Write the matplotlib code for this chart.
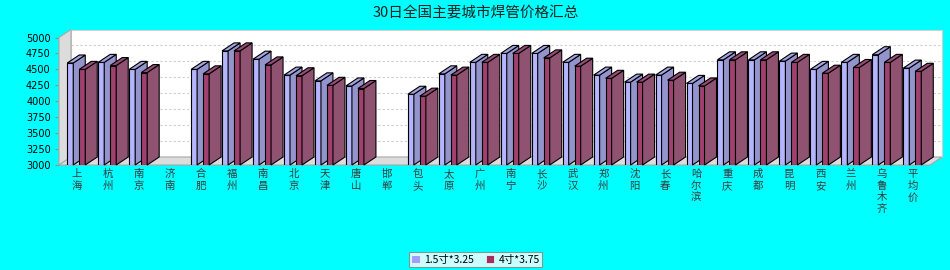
import matplotlib
matplotlib.use("Agg")
import matplotlib.pyplot as plt
from matplotlib.patches import Polygon, Patch
import numpy as np

plt.rcParams['font.family'] = ['Noto Sans CJK SC', 'DejaVu Sans']

title = "30日全国主要城市焊管价格汇总"
cities = ["上海", "杭州", "南京", "济南", "合肥", "福州", "南昌", "北京", "天津", "唐山",
          "邯郸", "包头", "太原", "广州", "南宁", "长沙", "武汉", "郑州", "沈阳", "长春",
          "哈尔滨", "重庆", "成都", "昆明", "西安", "兰州", "乌鲁木齐", "平均价"]
series_names = ["1.5寸*3.25", "4寸*3.75"]
s1 = [4600, 4610, 4500, np.nan, 4500, 4790, 4660, 4410, 4320, 4240,
      np.nan, 4110, 4430, 4610, 4750, 4750, 4610, 4410, 4300, 4410,
      4280, 4650, 4650, 4630, 4500, 4610, 4730, 4520]
s2 = [4500, 4560, 4450, np.nan, 4430, 4790, 4570, 4400, 4250, 4200,
      np.nan, 4080, 4410, 4610, 4750, 4680, 4550, 4360, 4300, 4330,
      4240, 4650, 4650, 4610, 4440, 4530, 4610, 4470]
yticks = [3000, 3250, 3500, 3750, 4000, 4250, 4500, 4750, 5000]

W, H = 950, 270
fig = plt.figure(figsize=(9.5, 2.7), dpi=100, facecolor='#00ffff')

left_px, right_px, top_px, bot_px = 59, 930, 37.5, 165
ax = fig.add_axes([left_px / W, 1 - bot_px / H, (right_px - left_px) / W, (bot_px - top_px) / H])
ax.set_facecolor('none')
x0, x1 = -0.58, 27.55
y0, y1 = 3000, 5000
ax.set_xlim(x0, x1)
ax.set_ylim(y0, y1)
for s in ax.spines.values():
    s.set_visible(False)

# depth offset in data units (12 px right, 8 px up)
pxx = (x1 - x0) / (right_px - left_px)
pxy = (y1 - y0) / (bot_px - top_px)
dx = 12 * pxx
dy = 8 * pxy

wall_edge = '#a8a8a8'
# back wall
ax.add_patch(Polygon([(x0 + dx, y0 + dy), (x1 + dx, y0 + dy), (x1 + dx, y1 + dy), (x0 + dx, y1 + dy)],
                     closed=True, facecolor='white', edgecolor='#d0d0d0', lw=0.8, clip_on=False, zorder=1))
# gridlines on back wall
for yv in yticks[1:-1]:
    ax.plot([x0 + dx, x1 + dx], [yv + dy, yv + dy], color='#cfcfcf', lw=0.8, ls=(0, (2, 2)),
            clip_on=False, zorder=1.5)
# left wall
ax.add_patch(Polygon([(x0, y0), (x0 + dx, y0 + dy), (x0 + dx, y1 + dy), (x0, y1)],
                     closed=True, facecolor='#dcdcdc', edgecolor=wall_edge, lw=0.8, clip_on=False, zorder=2))
# floor
ax.add_patch(Polygon([(x0, y0), (x1, y0), (x1 + dx, y0 + dy), (x0 + dx, y0 + dy)],
                     closed=True, facecolor='#dcdcdc', edgecolor=wall_edge, lw=0.8, clip_on=False, zorder=2))

w = 6 * pxx
offs = [-6.7 * pxx, 5.3 * pxx]
colors = [
    dict(front='#b4b4ff', side='#9494cc', top='#a4a4e4'),
    dict(front='#a0406e', side='#8f5270', top='#9a4a78'),
]
x = np.arange(len(cities))
z = 3
for i in range(len(cities)):
    for k, vals in enumerate([s1, s2]):
        v = vals[i]
        if np.isnan(v):
            continue
        c = colors[k]
        xc = x[i] + offs[k]
        ax.bar(xc, v - y0, bottom=y0, width=w, color=c['front'], edgecolor='black', lw=0.8, zorder=z)
        xr = xc + w / 2
        xl = xc - w / 2
        ax.add_patch(Polygon([(xr, y0), (xr + dx, y0 + dy), (xr + dx, v + dy), (xr, v)], closed=True,
                             facecolor=c['side'], edgecolor='black', lw=0.8, zorder=z, clip_on=False))
        ax.add_patch(Polygon([(xl, v), (xr, v), (xr + dx, v + dy), (xl + dx, v + dy)], closed=True,
                             facecolor=c['top'], edgecolor='black', lw=0.8, zorder=z, clip_on=False))
        z += 0.01

ax.set_yticks(yticks)
ax.set_yticklabels([str(t) for t in yticks], fontsize=7, family='DejaVu Sans', color='black')
ax.tick_params(axis='y', length=3, width=0.8, color='#909090', pad=3)
ax.set_xticks(x)
ax.set_xticklabels(['\n'.join(c) for c in cities], fontsize=7.5, color='#3a3a3a', linespacing=1.2)
ax.tick_params(axis='x', length=0, pad=3)

fig.text(476 / W, 1 - 13 / H, title, ha='center', va='center', fontsize=10.5, color='#202020')

handles = [Patch(facecolor='#a0a0ff', edgecolor='white', lw=0.5),
           Patch(facecolor='#a03060', edgecolor='white', lw=0.5)]
leg = fig.legend(handles, series_names, loc='center', bbox_to_anchor=(475.5 / W, 1 - 259.5 / H),
                 ncol=2, fontsize=7.5, frameon=True, fancybox=False, handlelength=0.8, handleheight=0.8,
                 handletextpad=0.4, columnspacing=1.2, borderpad=0.25, borderaxespad=0)
leg.get_frame().set_edgecolor('#808080')
leg.get_frame().set_linewidth(0.8)
leg.get_frame().set_facecolor('white')

fig.savefig('out.png', dpi=100, facecolor=fig.get_facecolor())
